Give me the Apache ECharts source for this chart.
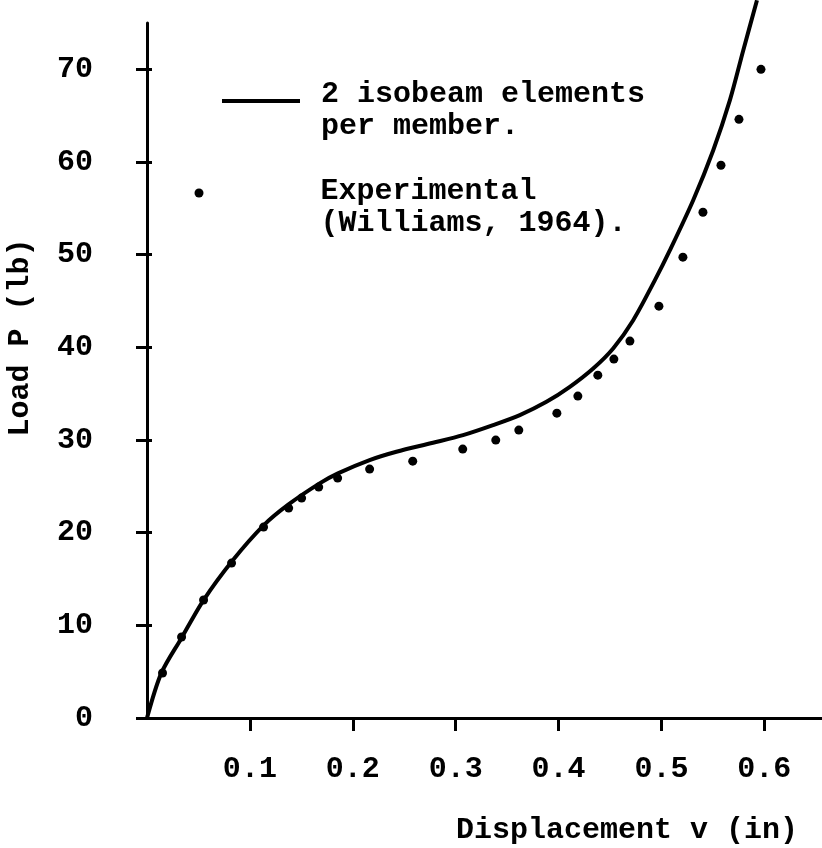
<!DOCTYPE html>
<html>
<head>
<meta charset="utf-8">
<script src="https://cdn.jsdelivr.net/npm/echarts@6/dist/echarts.min.js"></script>
<style>
html, body { margin: 0; padding: 0; background: #fff; }
#main { width: 822px; height: 848px; }
</style>
</head>
<body>
<div id="main"></div>
<script>
// tick labels
var xTicks = [0.1, 0.2, 0.3, 0.4, 0.5, 0.6];
var yTicks = [0, 10, 20, 30, 40, 50, 60, 70];

// computed curve: 2 isobeam elements per member
var curveX = [0, 0.0138, 0.0333, 0.055, 0.0832, 0.1136, 0.1376, 0.1678, 0.1856, 0.2164, 0.2424, 0.278, 0.3072, 0.3364, 0.3624, 0.3883, 0.411, 0.4337, 0.4531, 0.4726, 0.4937, 0.5083, 0.5309, 0.5504, 0.5666, 0.5796, 0.5929];
var curveY = [0, 4.82, 8.59, 12.73, 17.0, 20.82, 23.05, 25.32, 26.4, 27.83, 28.73, 29.7, 30.53, 31.61, 32.69, 34.12, 35.74, 37.72, 39.88, 42.93, 47.25, 50.49, 55.88, 61.27, 66.67, 72.06, 77.45];

// experimental points (Williams, 1964)
var expX = [0.0151, 0.0336, 0.055, 0.0822, 0.1133, 0.1377, 0.1503, 0.1669, 0.1853, 0.2164, 0.2583, 0.3069, 0.339, 0.3614, 0.3984, 0.4188, 0.4382, 0.4538, 0.4694, 0.4976, 0.5209, 0.5404, 0.5579, 0.5754, 0.5968];
var expY = [4.85, 8.74, 12.73, 16.72, 20.6, 22.65, 23.73, 24.92, 25.89, 26.86, 27.72, 29.02, 29.99, 31.07, 32.9, 34.74, 37.0, 38.73, 40.67, 44.44, 49.73, 54.58, 59.65, 64.6, 70.0];

var lineName = '2 isobeam elements\nper member.';
var expName = 'Experimental\n(Williams, 1964).';

var font = 'Liberation Mono';

function pairs(xs, ys) {
    return xs.map(function (x, i) { return [x, ys[i]]; });
}

// legend text: a spacer line on top pushes the two text lines below the icon
function legendText(name) {
    return '{s| }\n{a|' + name.split('\n').join('}\n{a|') + '}';
}

var textA = { fontFamily: font, fontSize: 30, fontWeight: 'bold', color: '#000', lineHeight: 32 };

var myChart = echarts.init(document.getElementById('main'));

var option = {
    backgroundColor: '#fff',
    animation: false,
    textStyle: { fontFamily: font, color: '#000' },
    grid: {
        left: 147,
        top: 23,
        width: 679,
        height: 695,
        containLabel: false,
        outerBoundsMode: 'none'
    },
    legend: [{
        data: [lineName],
        left: 222,
        top: 64,
        padding: 0,
        selectedMode: false,
        icon: 'rect',
        itemWidth: 78,
        itemHeight: 4,
        itemStyle: { color: '#000' },
        formatter: legendText,
        textStyle: {
            padding: [0, 0, 0, 16],
            rich: { a: textA, s: { fontSize: 10, lineHeight: 18 } }
        }
    }, {
        data: [expName],
        left: 194.5,
        top: 156,
        padding: 0,
        selectedMode: false,
        icon: 'circle',
        itemWidth: 9,
        itemHeight: 9,
        itemStyle: { color: '#000' },
        formatter: legendText,
        textStyle: {
            padding: [0, 0, 0, 112],
            rich: { a: textA, s: { fontSize: 10, lineHeight: 28 } }
        }
    }],
    xAxis: {
        type: 'value',
        min: 0,
        max: 0.66,
        name: 'Displacement v (in)',
        nameLocation: 'end',
        nameGap: -28,
        nameTextStyle: {
            fontFamily: font, fontSize: 30, fontWeight: 'bold', color: '#000',
            align: 'right', verticalAlign: 'top', padding: [97, 0, 0, 0]
        },
        splitLine: { show: false },
        axisLine: { show: true, lineStyle: { color: '#000', width: 3 } },
        axisTick: { show: true, length: 13, lineStyle: { color: '#000', width: 3 }, customValues: xTicks },
        axisLabel: {
            fontFamily: font, fontSize: 30, fontWeight: 'bold', color: '#000',
            margin: 36, customValues: xTicks,
            formatter: function (v) { return v.toFixed(1); }
        }
    },
    yAxis: [{
        type: 'value',
        min: 0,
        max: 75,
        name: 'Load P (lb)',
        nameLocation: 'middle',
        nameGap: 112,
        nameTextStyle: {
            fontFamily: font, fontSize: 30, fontWeight: 'bold', color: '#000',
            padding: [0, 0, 0, 66]
        },
        splitLine: { show: false },
        axisLine: { show: true, lineStyle: { color: '#000', width: 3 } },
        axisTick: { show: true, length: 11, lineStyle: { color: '#000', width: 3 }, customValues: yTicks },
        axisLabel: {
            fontFamily: font, fontSize: 30, fontWeight: 'bold', color: '#000',
            margin: 54, customValues: yTicks
        }
    }, {
        // short inner half of the crossing ticks
        type: 'value',
        min: 0,
        max: 75,
        position: 'left',
        splitLine: { show: false },
        axisLine: { show: false },
        axisLabel: { show: false },
        axisTick: { show: true, inside: true, length: 5, lineStyle: { color: '#000', width: 3 }, customValues: yTicks }
    }],
    series: [{
        name: lineName,
        type: 'line',
        data: pairs(curveX, curveY),
        smooth: 0.3,
        clip: false,
        symbol: 'none',
        lineStyle: { color: '#000', width: 4 },
        itemStyle: { color: '#000' }
    }, {
        name: expName,
        type: 'scatter',
        data: pairs(expX, expY),
        symbol: 'circle',
        symbolSize: 9,
        itemStyle: { color: '#000', opacity: 1 }
    }]
};

myChart.setOption(option);
</script>
</body>
</html>
